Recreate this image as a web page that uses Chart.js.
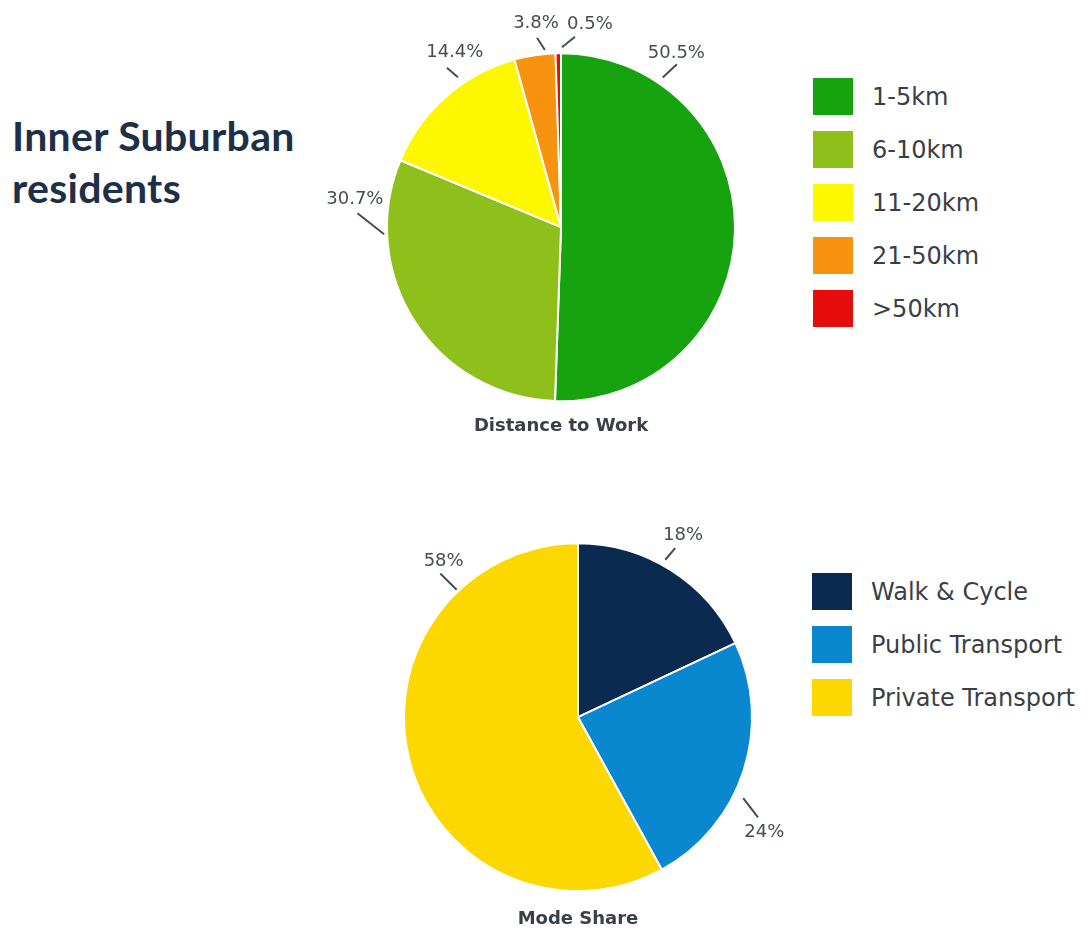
<!DOCTYPE html>
<html>
<head>
<meta charset="utf-8">
<script src="https://cdn.jsdelivr.net/npm/chart.js@4.4.0/dist/chart.umd.min.js"></script>
<style>
  html, body { margin: 0; padding: 0; background: #fff; width: 1088px; height: 932px; overflow: hidden; }
  .heading { position: absolute; left: 12px; top: 110px; font: 700 41px Lato; line-height: 52px; color: #1e3048; letter-spacing: 0.3px; }
  .legend { position: absolute; margin: 0; padding: 0; list-style: none; font: 24px "DejaVu Sans"; color: #3a3f47; }
  .legend li { display: flex; align-items: center; height: 37px; margin-bottom: 16px; }
  .legend span { display: inline-block; width: 40px; height: 37px; margin-right: 19px; }
  canvas { position: absolute; left: 0; }
</style>
</head>
<body>
<div class="heading">Inner Suburban<br>residents</div>
<ul class="legend" id="distLegend" style="left:813px; top:78px;"></ul>
<ul class="legend" id="modeLegend" style="left:812px; top:573px;"></ul>
<canvas id="distChart" width="1088" height="450" style="top:0"></canvas>
<canvas id="modeChart" width="1088" height="482" style="top:450px"></canvas>

<script>
// data
const distLabels = ["1-5km", "6-10km", "11-20km", "21-50km", ">50km"];
const distValues = [50.5, 30.7, 14.4, 3.8, 0.5];
const distColors = ["#17a30f", "#8ebf1a", "#fdf700", "#f7930f", "#e50c0c"];

const modeLabels = ["Walk & Cycle", "Public Transport", "Private Transport"];
const modeValues = [18, 24, 58];
const modeColors = ["#0b2a4f", "#0a88cf", "#fdd700"];

// fill a html legend from labels + colours
function buildLegend(id, labels, colors) {
  const ul = document.getElementById(id);
  labels.forEach((label, i) => {
    const li = document.createElement("li");
    const box = document.createElement("span");
    box.style.background = colors[i];
    li.appendChild(box);
    li.appendChild(document.createTextNode(label));
    ul.appendChild(li);
  });
}

// point at angle (deg, clockwise from top) and distance from centre
function polar(cx, cy, r, deg) {
  const a = deg * Math.PI / 180;
  return { x: cx + r * Math.sin(a), y: cy - r * Math.cos(a) };
}

// percentage labels with short leader lines, placed around each arc
const pieLabels = {
  id: "pieLabels",
  afterDatasetsDraw(chart, args, opts) {
    const ctx = chart.ctx;
    const meta = chart.getDatasetMeta(0);
    const values = chart.data.datasets[0].data;
    ctx.save();
    ctx.font = opts.font;
    ctx.fillStyle = opts.color;
    ctx.strokeStyle = opts.color;
    ctx.lineWidth = 2;
    ctx.textAlign = "center";
    ctx.textBaseline = "middle";
    meta.data.forEach((arc, i) => {
      const s = opts.spots[i];
      const { x, y, outerRadius } = arc.getProps(["x", "y", "outerRadius"], true);
      const p1 = polar(x, y, outerRadius + s.g1, s.a1);
      const p2 = polar(x, y, outerRadius + s.g2, s.a2);
      const t = polar(x, y, outerRadius + s.gt, s.at);
      ctx.beginPath();
      ctx.moveTo(p1.x, p1.y);
      ctx.lineTo(p2.x, p2.y);
      ctx.stroke();
      ctx.fillText(values[i] + "%", t.x, t.y);
    });
    ctx.restore();
  }
};

function makePie(canvasId, labels, values, colors, title, padding, spots) {
  const ctx = document.getElementById(canvasId).getContext("2d");
  return new Chart(ctx, {
    type: "pie",
    data: {
      labels: labels,
      datasets: [{
        data: values,
        backgroundColor: colors,
        borderColor: "#ffffff",
        borderWidth: 2,
      }],
    },
    options: {
      responsive: false,
      animation: false,
      radius: 174,
      layout: { padding: padding },
      plugins: {
        legend: { display: false },
        tooltip: { enabled: false },
        title: {
          display: true,
          text: title,
          position: "bottom",
          color: "#3a404a",
          font: { family: "DejaVu Sans", size: 18, weight: "bold", lineHeight: 1.2 },
          padding: { top: 4, bottom: 0 },
        },
        pieLabels: {
          font: "18px 'DejaVu Sans'",
          color: "#474d56",
          spots: spots,
        },
      },
    },
    plugins: [pieLabels],
  });
}

buildLegend("distLegend", distLabels, distColors);
buildLegend("modeLegend", modeLabels, modeColors);

makePie("distChart", distLabels, distValues, distColors, "Distance to Work",
  { left: 250, right: 216, top: 43, bottom: 13 },
  [
    { a1: 34.2, g1: 7, a2: 35.4, g2: 26, at: 33.5, gt: 35 },
    { a1: -92.3, g1: 3, a2: -86.1, g2: 30, at: -82.3, gt: 34 },
    { a1: -34.5, g1: 8, a2: -35.6, g2: 22, at: -31.2, gt: 31 },
    { a1: -5.2, g1: 4, a2: -7.2, g2: 17, at: -7, gt: 31 },
    { a1: 0.3, g1: 6, a2: 4.2, g2: 17, at: 8.1, gt: 31 },
  ]);

makePie("modeChart", modeLabels, modeValues, modeColors, "Mode Share",
  { left: 250, right: 182, top: 80, bottom: 2 },
  [
    { a1: 29, g1: 6, a2: 29.9, g2: 21, at: 30, gt: 36 },
    { a1: 116.1, g1: 10, a2: 119.1, g2: 32, at: 121.7, gt: 45 },
    { a1: -43.6, g1: 2, a2: -43.8, g2: 25, at: -40.7, gt: 32 },
  ]);
</script>
</body>
</html>
